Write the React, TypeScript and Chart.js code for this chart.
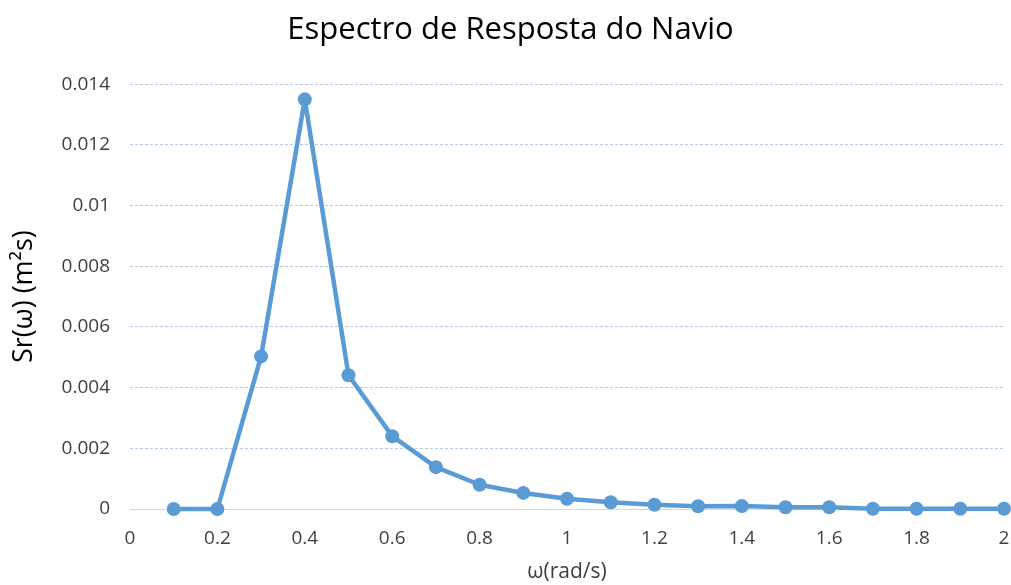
import React, { useEffect, useRef } from "react";
import { Chart, registerables } from "chart.js";

Chart.register(...registerables);

const TITLE = "Espectro de Resposta do Navio";
const X_TITLE = "ω(rad/s)";
const Y_TITLE = "Sr(ω) (m²s)";

const omega = [0.1, 0.2, 0.3, 0.4, 0.5, 0.6, 0.7, 0.8, 0.9, 1.0, 1.1, 1.2, 1.3, 1.4, 1.5, 1.6, 1.7, 1.8, 1.9, 2.0];
const sr = [0, 0, 0.00503, 0.0135, 0.00441, 0.0024, 0.00138, 0.0008, 0.00053, 0.00034, 0.00022, 0.00014, 0.00009, 0.0001, 0.00006, 0.00006, 0.00001, 0.00001, 0.00001, 0.00001];

const FONT = "'Open Sans', 'Noto Sans', sans-serif";

export default function App() {
  const ref = useRef<HTMLCanvasElement | null>(null);

  useEffect(() => {
    document.body.style.margin = "0";
    const canvas = ref.current;
    if (!canvas) return;
    const chart = new Chart(canvas, {
      type: "line",
      data: {
        datasets: [
          {
            data: omega.map((x, i) => ({ x, y: sr[i] })),
            borderColor: "#5b9bd5",
            backgroundColor: "#5b9bd5",
            borderWidth: 4.5,
            borderJoinStyle: "round",
            borderCapStyle: "round",
            pointRadius: 7,
            pointBorderWidth: 0,
            pointBackgroundColor: "#5b9bd5",
            tension: 0,
            clip: false,
          },
        ],
      },
      options: {
        animation: false,
        responsive: false,
        devicePixelRatio: 1,
        layout: { padding: { left: 16, right: 6, top: 0, bottom: 0 } },
        plugins: {
          legend: { display: false },
          tooltip: { enabled: false },
          title: {
            display: true,
            text: TITLE,
            color: "#000000",
            font: { family: FONT, size: 31, weight: "normal" },
            padding: { top: 12, bottom: 35 },
          },
        },
        scales: {
          x: {
            type: "linear",
            min: 0,
            max: 2,
            afterFit: (s: any) => {
              s.height = 76;
              s.paddingRight = 0;
              s.paddingLeft = 0;
            },
            ticks: {
              stepSize: 0.2,
              color: "#404040",
              font: { family: FONT, size: 19 },
              padding: 18,
              maxRotation: 0,
              callback: (v: any) => String(Number(Number(v).toFixed(4))),
            },
            grid: { display: false, drawTicks: false },
            border: { display: true, color: "#d9d9d9", width: 1 },
            title: {
              display: true,
              text: X_TITLE,
              color: "#404040",
              font: { family: FONT, size: 21 },
              padding: { top: 2, bottom: 0 },
            },
          },
          y: {
            min: 0,
            max: 0.014,
            afterFit: (s: any) => {
              s.width = 114;
            },
            ticks: {
              stepSize: 0.002,
              color: "#404040",
              font: { family: FONT, size: 19 },
              padding: 20,
              callback: (v: any) => String(Number(Number(v).toFixed(4))),
            },
            grid: {
              drawTicks: false,
              color: (ctx: any) => (ctx.tick && ctx.tick.value === 0 ? "rgba(0,0,0,0)" : "#b4cbe8"),
              lineWidth: 1,
            },
            border: { display: false, dash: [3, 2] },
            title: {
              display: true,
              text: Y_TITLE,
              color: "#000000",
              font: { family: FONT, size: 27 },
              padding: { top: -8, bottom: 0 },
            },
          },
        },
      },
    });
    return () => chart.destroy();
  }, []);

  return (
    <div style={{ position: "absolute", left: 0, top: 0, width: 1011, height: 585, background: "#ffffff" }}>
      <canvas ref={ref} width={1011} height={585} style={{ width: 1011, height: 585, display: "block" }} />
    </div>
  );
}
